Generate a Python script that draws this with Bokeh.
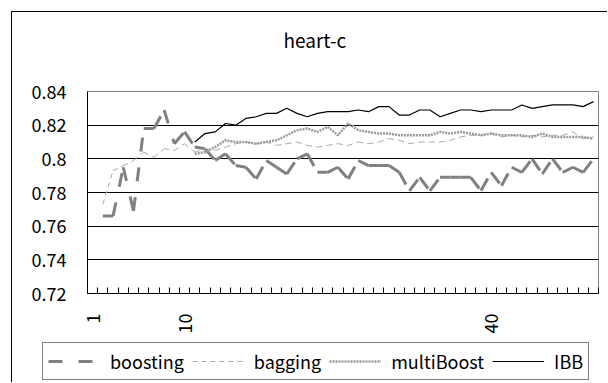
import numpy as np
from bokeh.plotting import figure
from bokeh.models import FixedTicker, Legend, LegendItem, ColumnDataSource, Spacer, LinearAxis, Title
from bokeh.layouts import row, column
from bokeh.embed import file_html
from bokeh.resources import INLINE

categories = list(range(1, 51))
boosting = [None, 0.766, 0.766, 0.795, 0.769, 0.818, 0.818, 0.829, 0.809, 0.816,
            0.807, 0.806, 0.799, 0.803, 0.796, 0.795, 0.788, 0.799, 0.795, 0.791,
            0.800, 0.803, 0.792, 0.792, 0.795, 0.788, 0.799, 0.796, 0.796, 0.796,
            0.792, 0.781, 0.789, 0.781, 0.789, 0.789, 0.789, 0.789, 0.781, 0.792,
            0.784, 0.795, 0.792, 0.800, 0.791, 0.800, 0.792, 0.795, 0.792, 0.800]
bagging = [None, 0.773, 0.793, 0.796, 0.799, 0.804, 0.801, 0.806, 0.805, 0.809,
           0.804, 0.806, 0.805, 0.807, 0.809, 0.810, 0.809, 0.810, 0.808, 0.809,
           0.810, 0.808, 0.807, 0.808, 0.809, 0.808, 0.810, 0.809, 0.810, 0.812,
           0.811, 0.809, 0.810, 0.810, 0.810, 0.811, 0.813, 0.814, 0.814, 0.815,
           0.813, 0.814, 0.813, 0.814, 0.813, 0.814, 0.814, 0.816, 0.812, 0.813]
multiboost = [None] * 10 + [
    0.803, 0.804, 0.807, 0.811, 0.810, 0.810, 0.809, 0.810, 0.811, 0.814,
    0.817, 0.818, 0.816, 0.819, 0.814, 0.821, 0.817, 0.816, 0.815, 0.815,
    0.814, 0.814, 0.814, 0.814, 0.816, 0.815, 0.816, 0.815, 0.814, 0.815,
    0.814, 0.814, 0.814, 0.813, 0.815, 0.813, 0.813, 0.813, 0.813, 0.812]
ibb = [None] * 10 + [
    0.810, 0.815, 0.816, 0.821, 0.820, 0.824, 0.825, 0.827, 0.827, 0.830,
    0.827, 0.825, 0.827, 0.828, 0.828, 0.828, 0.829, 0.828, 0.831, 0.831,
    0.826, 0.826, 0.829, 0.829, 0.825, 0.827, 0.829, 0.829, 0.828, 0.829,
    0.829, 0.829, 0.832, 0.830, 0.831, 0.832, 0.832, 0.832, 0.831, 0.834]
y_ticks = [0.72, 0.74, 0.76, 0.78, 0.80, 0.82, 0.84]
y_tick_labels = ["0.72", "0.74", "0.76", "0.78", "0.8", "0.82", "0.84"]
x_label_ticks = [1, 10, 40]
series_names = ["boosting", "bagging", "multiBoost", "IBB"]
series_values = [boosting, bagging, multiboost, ibb]
chart_title = "heart-c"

FONT = "Noto Sans CJK JP"
x = np.array(categories, dtype=float)
boundaries = [c - 0.5 for c in categories] + [categories[-1] + 0.5]

STYLES = [
    dict(line_color="#808080", line_width=3, line_dash="14 16"),
    dict(line_color="#a8a8a8", line_width=1, line_dash="5 4"),
    dict(line_color="#9a9a9a", line_width=2.5, line_dash="2 1"),
    dict(line_color="black", line_width=1.2),
]


def segs(vals):
    v = np.array(vals, dtype=float)
    ok = ~np.isnan(v[:-1]) & ~np.isnan(v[1:])
    return ColumnDataSource(dict(x0=x[:-1][ok], y0=v[:-1][ok],
                                 x1=x[1:][ok], y1=v[1:][ok]))


LEG_H = 45
p = figure(width=596, height=371 - LEG_H, output_backend="svg", toolbar_location=None,
           x_range=(0.5, len(categories) + 0.5), y_range=(y_ticks[0], y_ticks[-1]),
           min_border_left=75, min_border_right=10, min_border_top=79,
           min_border_bottom=45, title_location=None)
p.frame_align = False
p.styles = {"border-left": "1px solid black", "border-top": "1px solid black"}

# spacer panel between frame and title, then the title itself
p.add_layout(Title(text=" ", text_font_size="10px", standoff=26), "above")
p.add_layout(Title(text=chart_title, align="left", offset=196, standoff=0,
                   text_font=FONT, text_font_size="19px", text_font_style="normal",
                   text_color="black"), "above")

p.outline_line_color = "#808080"
p.outline_line_width = 1

# x axis: tick marks at category boundaries (no labels)
p.xaxis.ticker = FixedTicker(ticks=boundaries)
p.xaxis.major_label_overrides = {b: "" for b in boundaries}
p.xaxis.major_tick_in = 6
p.xaxis.major_tick_out = 0
p.xaxis.major_tick_line_color = "black"
p.xaxis.major_tick_line_width = 1
p.xaxis.minor_tick_line_color = None
p.xaxis.axis_line_color = "black"
p.xaxis.major_label_standoff = 0

# x axis labels
xlab = LinearAxis(ticker=FixedTicker(ticks=x_label_ticks))
xlab.axis_line_color = None
xlab.major_tick_line_color = None
xlab.minor_tick_line_color = None
xlab.major_label_orientation = np.pi / 2
xlab.major_label_standoff = 14
xlab.major_label_text_font = FONT
xlab.major_label_text_font_size = "18px"
xlab.major_label_text_color = "black"
p.add_layout(xlab, "below")

p.yaxis.ticker = FixedTicker(ticks=y_ticks)
p.yaxis.major_label_overrides = {t: s for t, s in zip(y_ticks, y_tick_labels)}
p.yaxis.major_tick_in = 0
p.yaxis.major_tick_out = 0
p.yaxis.minor_tick_line_color = None
p.yaxis.axis_line_color = "black"
p.yaxis.major_label_standoff = 21
p.yaxis.major_label_text_font = FONT
p.yaxis.major_label_text_font_size = "18px"
p.yaxis.major_label_text_color = "black"

p.xgrid.grid_line_color = None
p.ygrid.ticker = FixedTicker(ticks=y_ticks[1:-1])
p.ygrid.grid_line_color = "black"
p.ygrid.grid_line_width = 1

# series
p.segment("x0", "y0", "x1", "y1", source=segs(boosting), **STYLES[0])
p.segment("x0", "y0", "x1", "y1", source=segs(bagging), **STYLES[1])
p.line(x, np.array(multiboost, dtype=float), **STYLES[2])
p.line(x, np.array(ibb, dtype=float), **STYLES[3])

# legend strip (separate canvas); its renderers hold the same series but lie
# outside this strip's visible range, so only the legend shows
lf = figure(width=596, height=LEG_H, output_backend="svg", toolbar_location=None,
            x_range=(1000, 1001), y_range=(0, 1), x_axis_location=None,
            y_axis_location=None, min_border=0, outline_line_color=None)
lf.frame_align = False
lf.styles = {"border-left": "1px solid black"}
lf.xgrid.visible = False
lf.ygrid.visible = False
leg_renderers = [lf.line(x, np.array(v, dtype=float), **s)
                 for v, s in zip(series_values, STYLES)]
legend = Legend(items=[LegendItem(label=n, renderers=[r])
                       for n, r in zip(series_names, leg_renderers)],
                orientation="horizontal", location=(30, 2))
legend.border_line_color = "black"
legend.border_line_width = 1
legend.background_fill_color = "white"
legend.background_fill_alpha = 1
legend.label_text_font = FONT
legend.label_text_font_size = "18px"
legend.label_text_color = "black"
legend.glyph_width = 52
legend.glyph_height = 20
legend.label_standoff = 10
legend.spacing = 8
legend.padding = 5
legend.margin = 0
lf.add_layout(legend, "center")

layout = column(Spacer(width=608, height=11),
                row(Spacer(width=11, height=371), column(p, lf)))

open("out.html", "w").write(file_html(layout, INLINE))
